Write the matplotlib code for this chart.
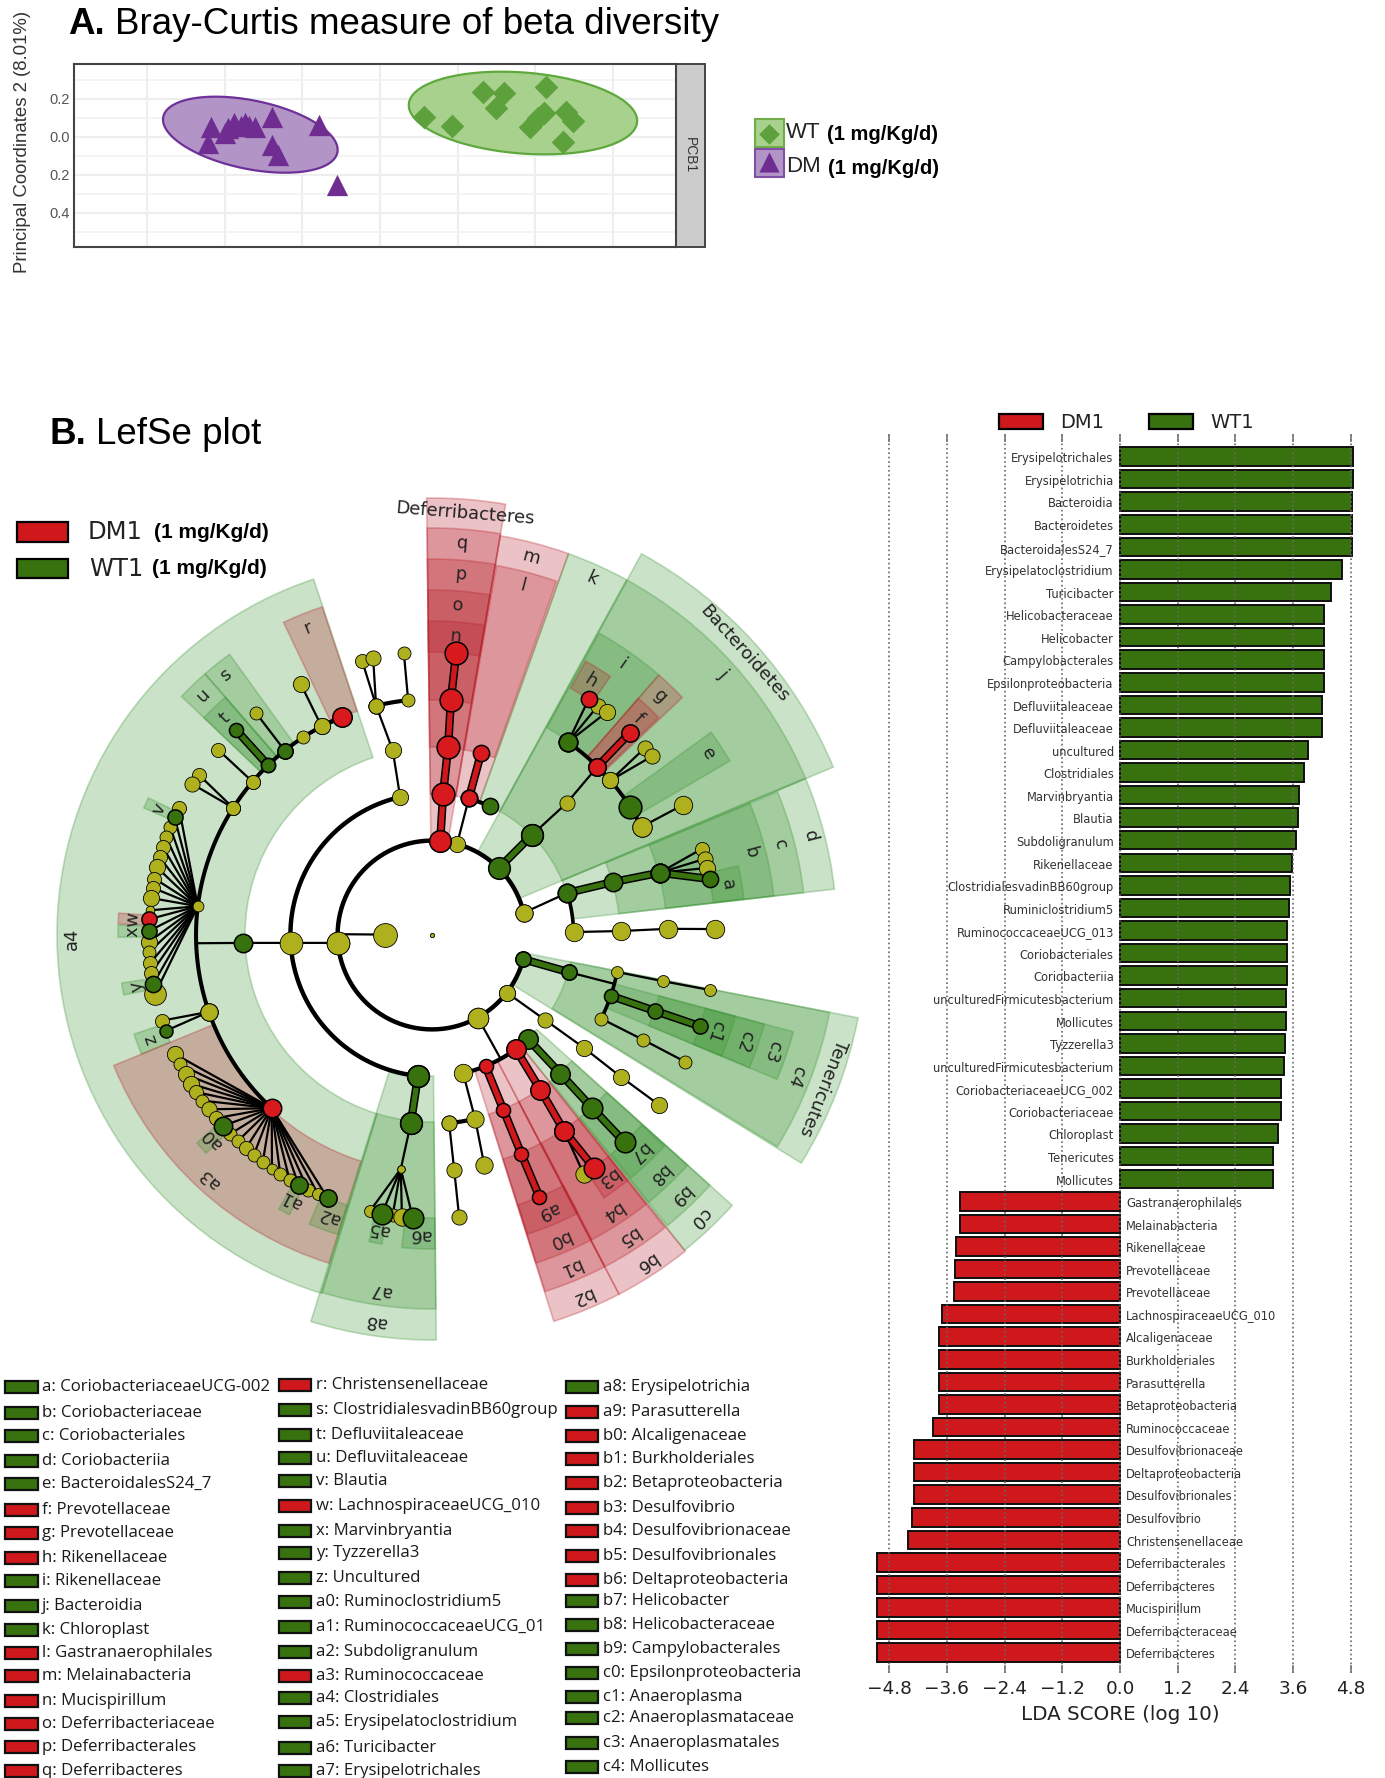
import numpy as np
import matplotlib
matplotlib.use("Agg")
from matplotlib import pyplot as plt
from matplotlib.patches import Rectangle

W, H = 1385, 1778
SANS = "Liberation Sans"
NOTE = "Open Sans"

# ---- panel A values (PCoA coordinates)
dm_x = [-0.218, -0.222, -0.200, -0.188, -0.174, -0.161, -0.139, -0.078, -0.139, -0.131, -0.055, -0.196, -0.179, -0.169]
dm_y = [0.054, -0.033, 0.019, 0.075, 0.072, 0.054, 0.104, 0.063, -0.042, -0.095, -0.253, 0.046, 0.058, 0.058]
wt_x = [0.133, 0.160, 0.213, 0.149, 0.057, 0.093, 0.211, 0.203, 0.193, 0.239, 0.249, 0.235]
wt_y = [0.235, 0.230, 0.265, 0.151, 0.107, 0.058, 0.125, 0.098, 0.054, 0.133, 0.086, -0.025]
# centre x, centre y, half width, half height, tilt
dm_ellipse = (-0.167, 0.012, 0.1124, 0.200, -0.41)
wt_ellipse = (0.184, 0.126, 0.147, 0.2175, -0.19)
pcoa_ticks = [0.2, 0.0, -0.2, -0.4]
pcoa_ticklabels = ["0.2", "0.0", "0.2", "0.4"]

# ---- LDA bars
wt_taxa = ["Erysipelotrichales", "Erysipelotrichia", "Bacteroidia", "Bacteroidetes", "BacteroidalesS24_7",
           "Erysipelatoclostridium", "Turicibacter", "Helicobacteraceae", "Helicobacter", "Campylobacterales",
           "Epsilonproteobacteria", "Defluviitaleaceae", "Defluviitaleaceae", "uncultured", "Clostridiales",
           "Marvinbryantia", "Blautia", "Subdoligranulum", "Rikenellaceae", "ClostridialesvadinBB60group",
           "Ruminiclostridium5", "RuminococcaceaeUCG_013", "Coriobacteriales", "Coriobacteriia",
           "unculturedFirmicutesbacterium", "Mollicutes", "Tyzzerella3", "unculturedFirmicutesbacterium",
           "CoriobacteriaceaeUCG_002", "Coriobacteriaceae", "Chloroplast", "Tenericutes", "Mollicutes"]
wt_lda = [4.84, 4.84, 4.82, 4.82, 4.82, 4.62, 4.38, 4.25, 4.25, 4.25, 4.25, 4.21, 4.21, 3.90, 3.83, 3.73, 3.70,
          3.66, 3.58, 3.53, 3.51, 3.48, 3.48, 3.48, 3.46, 3.45, 3.43, 3.41, 3.34, 3.34, 3.29, 3.18, 3.18]
dm_taxa = ["Gastranaerophilales", "Melainabacteria", "Rikenellaceae", "Prevotellaceae", "Prevotellaceae",
           "LachnospiraceaeUCG_010", "Alcaligenaceae", "Burkholderiales", "Parasutterella", "Betaproteobacteria",
           "Ruminococcaceae", "Desulfovibrionaceae", "Deltaproteobacteria", "Desulfovibrionales", "Desulfovibrio",
           "Christensenellaceae", "Deferribacterales", "Deferribacteres", "Mucispirillum", "Deferribacteraceae",
           "Deferribacteres"]
dm_lda = [-3.33, -3.33, -3.42, -3.43, -3.45, -3.71, -3.77, -3.77, -3.77, -3.77, -3.88, -4.28, -4.28, -4.28, -4.33,
          -4.42, -5.05, -5.05, -5.05, -5.05, -5.05]
lda_ticks = [-4.8, -3.6, -2.4, -1.2, 0.0, 1.2, 2.4, 3.6, 4.8]

# ---- cladogram shaded clades: label, start angle, end angle, inner r, outer r, group
wedges_firmicutes = [
    ("a4", 108.4, 252.9, 187, 375, "g"), ("r", 108.5, 115.4, 236, 346, "r"), ("s", 125.8, 131, 237, 346, "g"),
    ("u", 131, 136.4, 237, 346, "g"), ("t", 131, 136.4, 237, 315, "g"), ("v", 154.2, 156.2, 283, 315, "g"),
    ("w", 176, 178, 283, 314, "r"), ("x", 178.2, 180.4, 283, 314, "g"), ("y", 188.8, 191, 283, 314, "g"),
    ("z", 198.4, 202.3, 283, 314, "g"), ("a3", 202.3, 252.6, 237, 344, "r"), ("a0", 221.5, 224, 283, 314, "g"),
    ("a1", 240.8, 243, 283, 314, "g"), ("a2", 247, 252.6, 283, 314, "g"), ("a8", 252.6, 270.6, 141, 405, "g"),
    ("a7", 252.9, 270.6, 187, 374, "g"), ("a5", 258.4, 260.8, 283, 313, "g"), ("a6", 264.5, 270.6, 283, 314, "g"),
]
wedges_deferri = [
    ("Deferribacteres", 80.3, 90.7, 95, 437, "r"), ("q", 80.3, 90.7, 141, 407, "r"), ("p", 80.3, 90.7, 188, 376, "r"),
    ("o", 80.3, 90.7, 235, 345, "r"), ("n", 80.3, 90.7, 283, 314, "r"),
]
wedges_cyano = [
    ("m", 70.3, 80.3, 141, 405, "r"), ("l", 70.6, 80.1, 188, 375, "r"), ("k", 61.3, 70.3, 141, 405, "g"),
]
wedges_bacteroidetes = [
    ("Bacteroidetes", 22.7, 61.2, 95, 435, "g"), ("j", 22.8, 61.2, 141, 405, "g"), ("i", 48.9, 61, 237, 345, "g"),
    ("h", 55.4, 60.7, 283, 314, "r"), ("g", 43.5, 48.9, 237, 345, "r"), ("f", 43.8, 48.9, 237, 314, "r"),
    ("e", 30.3, 36, 237, 345, "g"),
]
wedges_actino = [
    ("d", 6.5, 22.7, 141, 405, "g"), ("c", 6.5, 22.5, 188, 374, "g"), ("b", 6.5, 22.5, 235, 344, "g"),
    ("a", 6.6, 12.7, 283, 314, "g"),
]
wedges_tenericutes = [
    ("Tenericutes", -31.7, -11, 95, 434, "g"), ("c4", -31.5, -11, 141, 405, "g"), ("c3", -22.7, -15, 188, 374, "g"),
    ("c2", -22.7, -15, 235, 344, "g"), ("c1", -22.7, -15, 283, 314, "g"),
]
wedges_proteo = [
    ("c0", -51.3, -42, 141, 404, "g"), ("b9", -51, -42, 188, 374, "g"), ("b8", -51, -42, 235, 344, "g"),
    ("b7", -50.7, -42.2, 283, 314, "g"), ("b6", -62.5, -51.3, 141, 405, "r"), ("b5", -62.5, -51.5, 188, 374, "r"),
    ("b4", -62.3, -51.5, 235, 344, "r"), ("b3", -56.8, -51.5, 283, 314, "r"), ("b2", -72.5, -62.5, 141, 405, "r"),
    ("b1", -72.4, -62.5, 188, 374, "r"), ("b0", -72.4, -62.4, 235, 344, "r"), ("a9", -72.3, -62.3, 283, 314, "r"),
]

# ---- cladogram tree: (angle, level, kind, size); kind "" is a joint without a dot
branches_thin = [
    [(0, 0, "y", 4)],
    [(179.5, 1, "y", 22), (179.5, 2, "", 0)],
    [(184.8, 2, "y", 21), (183.2, 3, "y", 21), (182.4, 4, "g", 17), (182, 5, "", 0)],
    [(103, 3, "y", 15), (102, 4, "y", 15), (103.7, 5, "y", 14)],
    [(103.7, 5, "y", 14), (104.3, 6, "y", 13)],
    [(103.7, 5, "y", 14), (102, 6, "y", 14)],
    [(95.8, 5, "y", 12), (95.7, 6, "y", 12)],
    [(117.9, 5, "y", 15), (117.6, 6, "y", 15)],
    [(128.6, 5, "g", 14), (128.4, 6, "y", 12)],
    [(139.5, 5, "y", 13), (139.1, 6, "y", 13)],
    [(147.4, 5, "y", 13), (145.5, 6, "y", 13)],
    [(147.4, 5, "y", 13), (147.8, 6, "y", 14)],
    [(199, 5, "y", 16), (197.6, 6, "y", 13)],
    [(199, 5, "y", 16), (199.8, 6, "g", 12)],
    [(263.6, 4, "g", 20), (262.4, 5, "y", 7)],
    [(74.6, 2, "y", 15), (74.9, 3, "r", 15)],
    [(45, 3, "g", 20), (44.4, 4, "y", 14), (45.5, 5, "r", 16)],
    [(40.9, 5, "y", 15), (41.3, 6, "y", 14)],
    [(40.9, 5, "y", 15), (39.1, 6, "y", 14)],
    [(54.8, 5, "g", 17), (56.4, 6, "r", 15)],
    [(54.8, 5, "g", 17), (54.1, 6, "y", 14)],
    [(54.8, 5, "g", 17), (51.9, 6, "y", 15)],
    [(27.3, 5, "y", 18), (27.4, 6, "y", 17)],
    [(13.6, 2, "y", 16), (17.3, 3, "g", 17)],
    [(1.2, 3, "y", 17), (1.2, 4, "y", 17), (1.5, 5, "y", 17), (1.2, 6, "y", 17)],
    [(15.3, 5, "g", 17), (17.7, 6, "y", 13)],
    [(15.3, 5, "g", 17), (15.6, 6, "y", 14)],
    [(15.3, 5, "g", 17), (13.7, 6, "y", 15)],
    [(-15.2, 3, "g", 14), (-15, 4, "", 0)],
    [(-11.3, 4, "y", 11), (-11.3, 5, "y", 11), (-11.2, 6, "y", 11)],
    [(-26.3, 4, "y", 12), (-26.4, 5, "y", 12), (-26.6, 6, "y", 12)],
    [(-37.6, 2, "y", 15), (-36.9, 3, "y", 14), (-36.6, 4, "y", 15), (-36.9, 5, "y", 15), (-36.8, 6, "y", 15)],
    [(-61, 2, "y", 19), (-61, 3, "", 0)],
    [(-77.3, 3, "y", 17), (-76.8, 4, "y", 16), (-77.2, 5, "y", 16)],
    [(-84.8, 4, "y", 14), (-84.6, 5, "y", 14), (-84.5, 6, "y", 14)],
    [(-56, 5, "r", 18), (-57.6, 6, "y", 16)],
]
branches_black = [
    [(117.9, 5, "y", 15), (112.4, 5, "r", 18)],
    [(74.9, 3, "r", 15), (65.8, 3, "g", 15)],
    [(32.9, 5, "g", 21), (27.3, 5, "y", 18)],
]
branches_green = [
    [(45, 2, "g", 20), (45, 3, "g", 20)],
    [(17.3, 3, "g", 17), (16.3, 4, "g", 17), (15.3, 5, "g", 17), (11.4, 6, "g", 15)],
    [(134, 5, "g", 13), (133.7, 6, "g", 13)],
    [(264.3, 3, "g", 20), (263.6, 4, "g", 20)],
    [(-14.9, 2, "g", 14), (-15.2, 3, "g", 14)],
    [(-18.8, 4, "g", 13), (-18.8, 5, "g", 14), (-18.8, 6, "g", 14)],
    [(-47.3, 3, "g", 18), (-47.2, 4, "g", 18), (-47.2, 5, "g", 19), (-47.1, 6, "g", 19)],
]
branches_red = [
    [(85, 2, "r", 20), (85.5, 3, "r", 21), (85.1, 4, "r", 21), (85.4, 5, "r", 21), (85.1, 6, "r", 21)],
    [(74.9, 3, "r", 15), (74.9, 4, "r", 15)],
    [(45.5, 5, "r", 16), (45.6, 6, "r", 16)],
    [(-67.8, 3, "r", 13), (-67.8, 4, "r", 13), (-67.8, 5, "r", 13), (-67.7, 6, "r", 13)],
    [(-53.7, 3, "r", 18), (-55, 4, "r", 18), (-56, 5, "r", 18), (-55.2, 6, "r", 19)],
]
# fans: parent (angle, level, kind, size) then leaves (angle, kind, size) on level 6
fan_v_parent = (173, 5, "y", 10)
fan_v_leaves = [(153.3, "y", 13), (155.4, "g", 14), (157.6, "y", 12), (159.8, "y", 12), (161.9, "y", 13),
                (164.1, "y", 13), (166.2, "y", 15), (168.5, "y", 13), (170.4, "y", 13), (172.5, "y", 15),
                (175, "y", 8), (176.8, "r", 14), (179.2, "g", 14), (181.4, "y", 15), (183.4, "y", 12),
                (185.7, "y", 13), (187.7, "y", 13), (190, "g", 15), (192, "y", 20)]
fan_a3_parent = (227.2, 5, "r", 17)
fan_a3_leaves = [(204.9, "y", 15), (207.2, "y", 12), (209.5, "y", 15), (211.7, "y", 15), (213.7, "y", 13),
                 (215.8, "y", 12), (218, "y", 14), (220.3, "y", 13), (222.4, "g", 17), (224.6, "y", 12),
                 (226.7, "y", 12), (228.9, "y", 13), (231, "y", 12), (233.3, "y", 12), (235.6, "y", 10),
                 (237.6, "y", 12), (239.8, "y", 12), (241.9, "g", 16), (244, "y", 12), (246.3, "y", 11),
                 (248.4, "g", 16)]
fan_a7_parent = (262.4, 5, "y", 7)
fan_a7_leaves = [(257.3, "y", 11), (259.8, "g", 19), (262, "y", 12), (263.9, "y", 16), (266.1, "g", 19)]
# rings: level, from angle, to angle, width
rings = [(2, 13.6, 345, 3.2), (3, 103, 264.3, 3.2), (5, 112.4, 227.2, 2.9), (3, -77.3, -47.3, 3.0),
         (4, -84.8, -76.8, 3.0), (4, -26.3, -11.3, 2.6), (3, 1.2, 17.3, 2.6), (5, 32.9, 54.8, 2.8),
         (5, 95.8, 103.7, 3.0), (5, 112.4, 123, 2.4)]
arc_nodes = [(123, 5, "y", 12), (139.5, 5, "y", 13), (134, 5, "g", 13), (128.6, 5, "g", 14), (147.4, 5, "y", 13),
             (199, 5, "y", 16), (13.6, 2, "y", 16), (-15, 2, "g", 14), (-37.6, 2, "y", 15), (-61, 2, "y", 19),
             (184.8, 2, "y", 21), (264.3, 3, "g", 20), (-84.8, 4, "y", 14)]

# ---- taxa key below the cladogram
key_col1 = ["a: CoriobacteriaceaeUCG-002", "b: Coriobacteriaceae", "c: Coriobacteriales", "d: Coriobacteriia",
            "e: BacteroidalesS24_7", "f: Prevotellaceae", "g: Prevotellaceae", "h: Rikenellaceae", "i: Rikenellaceae",
            "j: Bacteroidia", "k: Chloroplast", "l: Gastranaerophilales", "m: Melainabacteria", "n: Mucispirillum",
            "o: Deferribacteriaceae", "p: Deferribacterales", "q: Deferribacteres"]
key_col2 = ["r: Christensenellaceae", "s: ClostridialesvadinBB60group", "t: Defluviitaleaceae", "u: Defluviitaleaceae",
            "v: Blautia", "w: LachnospiraceaeUCG_010", "x: Marvinbryantia", "y: Tyzzerella3", "z: Uncultured",
            "a0: Ruminoclostridium5", "a1: RuminococcaceaeUCG_01", "a2: Subdoligranulum", "a3: Ruminococcaceae",
            "a4: Clostridiales", "a5: Erysipelatoclostridium", "a6: Turicibacter", "a7: Erysipelotrichales"]
key_col3 = ["a8: Erysipelotrichia", "a9: Parasutterella", "b0: Alcaligenaceae", "b1: Burkholderiales",
            "b2: Betaproteobacteria", "b3: Desulfovibrio", "b4: Desulfovibrionaceae", "b5: Desulfovibrionales",
            "b6: Deltaproteobacteria", "b7: Helicobacter", "b8: Helicobacteraceae", "b9: Campylobacterales",
            "c0: Epsilonproteobacteria", "c1: Anaeroplasma", "c2: Anaeroplasmataceae", "c3: Anaeroplasmatales",
            "c4: Mollicutes"]
key_group1 = "gggggrrrgggrrrrrr"
key_group2 = "rgggg" + "rgggggg" + "rgggg"
key_group3 = "gr" + "rrrrrrr" + "ggg" + "ggggg"
key_rows1 = [80, 158, 228, 302, 372, 450, 520, 593, 663, 738, 810, 880, 948, 1022, 1092, 1162, 1232]
key_rows2 = [75, 150, 225, 295, 362, 437, 512, 578, 655, 727, 800, 875, 947, 1015, 1087, 1163, 1232]
key_rows3 = [82, 157, 228, 297, 370, 445, 513, 587, 660, 723, 795, 868, 940, 1010, 1075, 1150, 1222]

RED = "#cf181c"
GREEN = "#37720f"
YELLOW = "#aeb01e"
DOT = {"y": YELLOW, "r": "#d81a1f", "g": GREEN}
LEVEL = 47.2


def frac_box(x0, y0, x1, y1):
    return [x0 / W, 1 - y1 / H, (x1 - x0) / W, (y1 - y0) / H]


fig = plt.figure(figsize=(W / 100, H / 100), dpi=100, facecolor="white")

# page axes in pixels for titles, legends and the key
page = fig.add_axes([0, 0, 1, 1])
page.set_xlim(0, W)
page.set_ylim(H, 0)
page.axis("off")

page.text(68, 25, "A.", fontsize=26.5, fontweight="bold", family=SANS, va="center")
page.text(115, 25, "Bray-Curtis measure of beta diversity", fontsize=26.5, family=SANS, va="center")
page.text(50, 434, "B.", fontsize=26.5, fontweight="bold", family=SANS, va="center")
page.text(96, 434, "LefSe plot", fontsize=26.5, family=SANS, va="center")

# panel A
ax_a = fig.add_axes(frac_box(74, 64, 676, 247))
ax_a.set_xlim(-0.394, 0.381)
ax_a.set_ylim(-0.579, 0.384)
ax_a.set_xticks([-0.3, -0.2, -0.1, 0.0, 0.1, 0.2, 0.3])
ax_a.set_xticklabels([])
ax_a.set_yticks(pcoa_ticks)
ax_a.set_yticklabels(pcoa_ticklabels, fontsize=10.5, family=SANS, color="#555555")
ax_a.set_yticks([0.3, 0.1, -0.1, -0.3, -0.5], minor=True)
ax_a.grid(True, which="major", color="#eeeeee", lw=1.6)
ax_a.grid(True, which="minor", axis="y", color="#f2f2f2", lw=1.2)
ax_a.tick_params(axis="x", length=0)
ax_a.tick_params(axis="y", which="both", length=0, pad=3)
ax_a.set_axisbelow(True)
for s in ax_a.spines.values():
    s.set_color("#444444")
    s.set_linewidth(1.5)
t = np.linspace(0, 2 * np.pi, 200)
for (cx, cy, a, b, tilt), fc, ec in [(dm_ellipse, "#b295c6", "#6f3199"), (wt_ellipse, "#a9d18e", "#5ea83e")]:
    ax_a.fill(cx + a * np.cos(t), cy + b * np.sin(t + tilt), fc=fc, ec=ec, lw=1.6, zorder=2)
ax_a.scatter(dm_x, dm_y, marker="^", s=235, color="#6f2c91", lw=0, zorder=3)
ax_a.scatter(wt_x, wt_y, marker="D", s=145, color="#5da13d", lw=0, zorder=3)

page.add_patch(Rectangle((676, 64), 29, 183, fc="#cccccc", ec="#444444", lw=1.4))
page.text(690, 155, "PCB1", rotation=-90, fontsize=10, family=SANS, color="#333333", ha="center", va="center")
page.text(23, 142, "Principal Coordinates 2 (8.01%)", rotation=90, fontsize=13.4, family=SANS, color="#333333",
          ha="center", va="center")

page.add_patch(Rectangle((755, 119), 29, 28, fc="#a9d18e", ec="#70ad47", lw=1.5))
page.add_patch(Rectangle((755, 149), 29, 28, fc="#b295c6", ec="#7f4fa8", lw=1.5))
page.scatter([769], [134], marker="D", s=110, color="#5da13d", lw=0, zorder=3)
page.scatter([769], [162], marker="^", s=210, color="#6f2c91", lw=0, zorder=3)
page.text(786, 133, "WT", fontsize=16, family=SANS, va="center", color="#222222")
page.text(827, 134, "(1 mg/Kg/d)", fontsize=14.5, fontweight="bold", family=SANS, va="center")
page.text(786, 167, "DM", fontsize=16, family=SANS, va="center", color="#222222")
page.text(828, 168, "(1 mg/Kg/d)", fontsize=14.5, fontweight="bold", family=SANS, va="center")

# cladogram legend
page.add_patch(Rectangle((17, 522), 51, 20, fc=RED, ec="black", lw=1.6))
page.add_patch(Rectangle((17, 559), 51, 19, fc=GREEN, ec="black", lw=1.6))
page.text(88, 532, "DM1", fontsize=17.5, va="center", color="#222222")
page.text(89, 569, "WT1", fontsize=17.5, va="center", color="#222222")
page.text(154, 533, "(1 mg/Kg/d)", fontsize=15, fontweight="bold", family=SANS, va="center")
page.text(152, 569, "(1 mg/Kg/d)", fontsize=15, fontweight="bold", family=SANS, va="center")

# taxa key
for labels, groups, rows, x0, x1, xt in [(key_col1, key_group1, key_rows1, 5, 38, 42),
                                         (key_col2, key_group2, key_rows2, 279, 311, 316),
                                         (key_col3, key_group3, key_rows3, 566, 598, 603)]:
    for lab, grp, zy in zip(labels, groups, rows):
        y = 1360 + zy / 3
        page.add_patch(Rectangle((x0, y - 6), x1 - x0, 12, fc=RED if grp == "r" else GREEN, ec="#111111", lw=1.6))
        page.text(xt, y, lab, fontsize=12.1, family=NOTE, va="center", color="#1a1a1a")

# cladogram on polar axes centred on the root
R = 480
clad = fig.add_axes(frac_box(432 - R, 935 - R, 432 + R, 935 + R), projection="polar")
clad.set_axis_off()
all_wedges = (wedges_firmicutes + wedges_deferri + wedges_cyano + wedges_bacteroidetes + wedges_actino
              + wedges_tenericutes + wedges_proteo)
for label, a1, a2, r1, r2, grp in all_wedges:
    rgb = "#b8212b" if grp == "r" else "#3b9434"
    clad.bar(np.radians((a1 + a2) / 2), r2 - r1, width=np.radians(a2 - a1), bottom=r1,
             facecolor=matplotlib.colors.to_rgba(rgb, 0.27), edgecolor=matplotlib.colors.to_rgba(rgb, 0.3),
             lw=1.2, zorder=1)
    mid = (a1 + a2) / 2
    clad.text(np.radians(mid), r2 - 14.5, label, rotation=(mid - 90) % 360, rotation_mode="anchor",
              ha="center", va="center", fontsize=12.9, color="#222222", zorder=6)


def rad(level):
    return level * LEVEL


for level, a1, a2, lw in rings:
    th = np.radians(np.linspace(a1, a2, 200))
    clad.plot(th, np.full_like(th, rad(level)), color="black", lw=lw, zorder=3, solid_capstyle="round")


def draw_path(path, color, lw, outline=False):
    th = [np.radians(p[0]) for p in path]
    rr = [rad(p[1]) for p in path]
    if outline:
        clad.plot(th, rr, color="black", lw=lw + 2.2, zorder=3, solid_capstyle="butt")
    clad.plot(th, rr, color=color, lw=lw, zorder=3, solid_capstyle="butt")


points = list(arc_nodes)
for path in branches_thin:
    draw_path(path, "black", 1.6)
    points += path
for path in branches_black:
    draw_path(path, "black", 3.0)
    points += path
for path in branches_green:
    draw_path(path, GREEN, 3.8, outline=True)
    points += path
for path in branches_red:
    draw_path(path, RED, 3.8, outline=True)
    points += path
for parent, leaves in [(fan_v_parent, fan_v_leaves), (fan_a3_parent, fan_a3_leaves), (fan_a7_parent, fan_a7_leaves)]:
    points.append(parent)
    for ang, kind, size in leaves:
        leaf = (ang, 6, kind, size)
        draw_path([parent, leaf], "black", 1.6)
        points.append(leaf)
for ang, lev, kind, size in points:
    if kind:
        clad.scatter(np.radians(ang), rad(lev), s=(size * 0.78) ** 2, color=DOT[kind], edgecolor="black",
                     linewidth=1.1 if kind != "y" else 0.6, zorder=5 if kind == "y" else 5.5)
clad.set_xlim(0, 2 * np.pi)
clad.set_ylim(0, R)

# LDA bars
lda = fig.add_axes(frac_box(870, 434, 1370, 1673))
lda.patch.set_alpha(0)
taxa = wt_taxa + dm_taxa
values = wt_lda + dm_lda
pos = np.arange(len(taxa))
lda.barh(pos, values, height=0.82, color=[GREEN] * len(wt_lda) + [RED] * len(dm_lda), edgecolor="#101010", lw=1.4)
for i, (name, v) in enumerate(zip(taxa, values)):
    if v > 0:
        lda.text(-0.13, i + 0.1, name, ha="right", va="center", fontsize=8.3, color="#333333")
    else:
        lda.text(0.13, i + 0.1, name, ha="left", va="center", fontsize=8.3, color="#333333")
lda.set_xlim(-5.2, 5.2)
lda.set_ylim(53.9, -1.0)
lda.set_yticks([])
lda.set_xticks(lda_ticks)
lda.tick_params(axis="x", direction="in", top=True, length=6, width=1.2, color="#777777", labelsize=13.3,
                pad=5, labelcolor="#222222")
lda.grid(True, axis="x", linestyle=":", lw=1.2, color="#666666")
lda.set_axisbelow(False)
for s in lda.spines.values():
    s.set_visible(False)
lda.set_xlabel("LDA SCORE (log 10)", fontsize=14.3, color="#222222", labelpad=5)

page.add_patch(Rectangle((999, 414), 44, 15, fc=RED, ec="black", lw=1.6))
page.add_patch(Rectangle((1149, 414), 44, 15, fc=GREEN, ec="black", lw=1.6))
page.text(1060, 422, "DM1", fontsize=14, va="center", color="#222222")
page.text(1210, 422, "WT1", fontsize=14, va="center", color="#222222")

fig.savefig("out.png", dpi=100)
